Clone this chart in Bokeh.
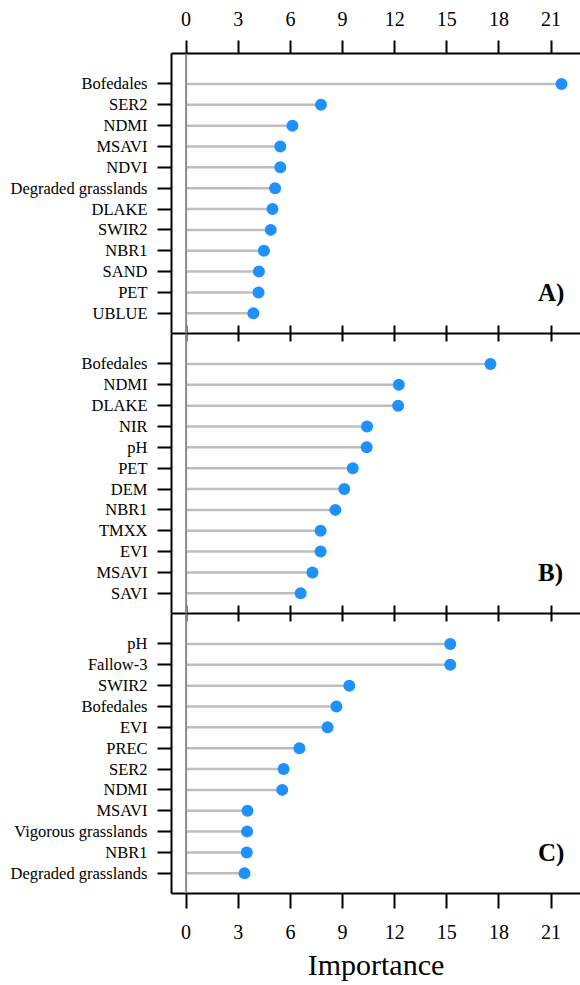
from bokeh.plotting import figure
from bokeh.models import Range1d, FixedTicker, LinearAxis, Span, Label, ColumnDataSource
from bokeh.layouts import column
from bokeh.embed import file_html
from bokeh.resources import INLINE

# ---- data ----
x_ticks = [0, 3, 6, 9, 12, 15, 18, 21]

names_a = ["Bofedales", "SER2", "NDMI", "MSAVI", "NDVI", "Degraded grasslands",
           "DLAKE", "SWIR2", "NBR1", "SAND", "PET", "UBLUE"]
values_a = [21.6, 7.76, 6.12, 5.42, 5.42, 5.12, 4.97, 4.87, 4.48, 4.19, 4.17, 3.87]

names_b = ["Bofedales", "NDMI", "DLAKE", "NIR", "pH", "PET", "DEM", "NBR1",
           "TMXX", "EVI", "MSAVI", "SAVI"]
values_b = [17.51, 12.24, 12.2, 10.41, 10.39, 9.59, 9.1, 8.59, 7.74, 7.74, 7.27, 6.59]

names_c = ["pH", "Fallow-3", "SWIR2", "Bofedales", "EVI", "PREC", "SER2", "NDMI",
           "MSAVI", "Vigorous grasslands", "NBR1", "Degraded grasslands"]
values_c = [15.2, 15.2, 9.39, 8.65, 8.14, 6.52, 5.61, 5.53, 3.53, 3.51, 3.49, 3.36]

panel_tags = ["A)", "B)", "C)"]
x_title = "Importance"

# ---- style ----
FONT = "Liberation Serif"
SEG_COLOR = "#BEBEBE"
DOT_COLOR = "#1E90FF"
ZERO_COLOR = "#8C8C8C"

FRAME_W = 409
xr = Range1d(-0.84, -0.84 + FRAME_W / 17.38)


def boundary_axis():
    return LinearAxis(ticker=FixedTicker(ticks=x_ticks), major_tick_in=8, major_tick_out=0,
                      minor_tick_line_color=None, major_label_text_font_size="0px",
                      major_label_text_color=None, major_label_text_alpha=0,
                      major_label_standoff=0, axis_line_width=2, major_tick_line_width=2,
                      axis_line_color="black", major_tick_line_color="black")


def labeled_axis(tick_out, standoff):
    return LinearAxis(ticker=FixedTicker(ticks=x_ticks), major_tick_in=0, major_tick_out=tick_out,
                      minor_tick_line_color=None, major_label_text_font=FONT,
                      major_label_text_font_size="20px", major_label_text_color="black",
                      major_label_standoff=standoff, axis_line_width=2, major_tick_line_width=2,
                      axis_line_color="black", major_tick_line_color="black")


def make_panel(names, values, tag, position):
    n = len(names)
    ypos = [n - i for i in range(n)]
    src = ColumnDataSource(dict(y=ypos, v=values, name=names))
    p = figure(frame_width=FRAME_W, frame_height=280, x_range=xr, y_range=Range1d(0.03, 13.46),
               output_backend="svg", toolbar_location=None, x_axis_location=None,
               min_border_left=171, min_border_right=0,
               min_border_top=53 if position == "top" else 0,
               min_border_bottom=0)
    p.outline_line_color = None
    p.grid.visible = False
    p.background_fill_color = "white"
    p.border_fill_color = "white"

    ya = p.yaxis[0]
    ya.ticker = FixedTicker(ticks=ypos)
    ya.major_label_overrides = {y: nm for y, nm in zip(ypos, names)}
    ya.major_tick_out = 14
    ya.major_tick_in = 0
    ya.minor_tick_line_color = None
    ya.major_label_standoff = 10
    ya.major_label_text_font = FONT
    ya.major_label_text_font_size = "16.5px"
    ya.major_label_text_color = "black"
    ya.axis_line_width = 2
    ya.major_tick_line_width = 2
    ya.axis_line_color = "black"
    ya.major_tick_line_color = "black"

    if position == "top":
        p.add_layout(labeled_axis(13, 15), "above")
    else:
        p.add_layout(boundary_axis(), "above")
    if position == "bottom":
        ax = labeled_axis(15, 16)
        ax.axis_label = x_title
        ax.axis_label_text_font = FONT
        ax.axis_label_text_font_size = "30px"
        ax.axis_label_text_font_style = "normal"
        ax.axis_label_text_color = "black"
        ax.axis_label_standoff = 6
        p.add_layout(ax, "below")
    else:
        p.add_layout(boundary_axis(), "below")

    p.add_layout(Span(location=0, dimension="height", line_color=ZERO_COLOR, line_width=2))
    p.segment(x0=0, y0="y", x1="v", y1="y", source=src, line_color=SEG_COLOR, line_width=2.5)
    p.scatter("v", "y", source=src, size=12, fill_color=DOT_COLOR, line_color=None)
    p.add_layout(Label(x=20.25, y=2, text=tag, text_font=FONT, text_font_size="25px",
                       text_font_style="bold", text_baseline="middle", text_align="left",
                       text_color="black"))
    return p


pa = make_panel(names_a, values_a, panel_tags[0], "top")
pb = make_panel(names_b, values_b, panel_tags[1], "middle")
pc = make_panel(names_c, values_c, panel_tags[2], "bottom")

layout = column(pa, pb, pc, spacing=0)
open("out.html", "w").write(file_html(layout, INLINE))
